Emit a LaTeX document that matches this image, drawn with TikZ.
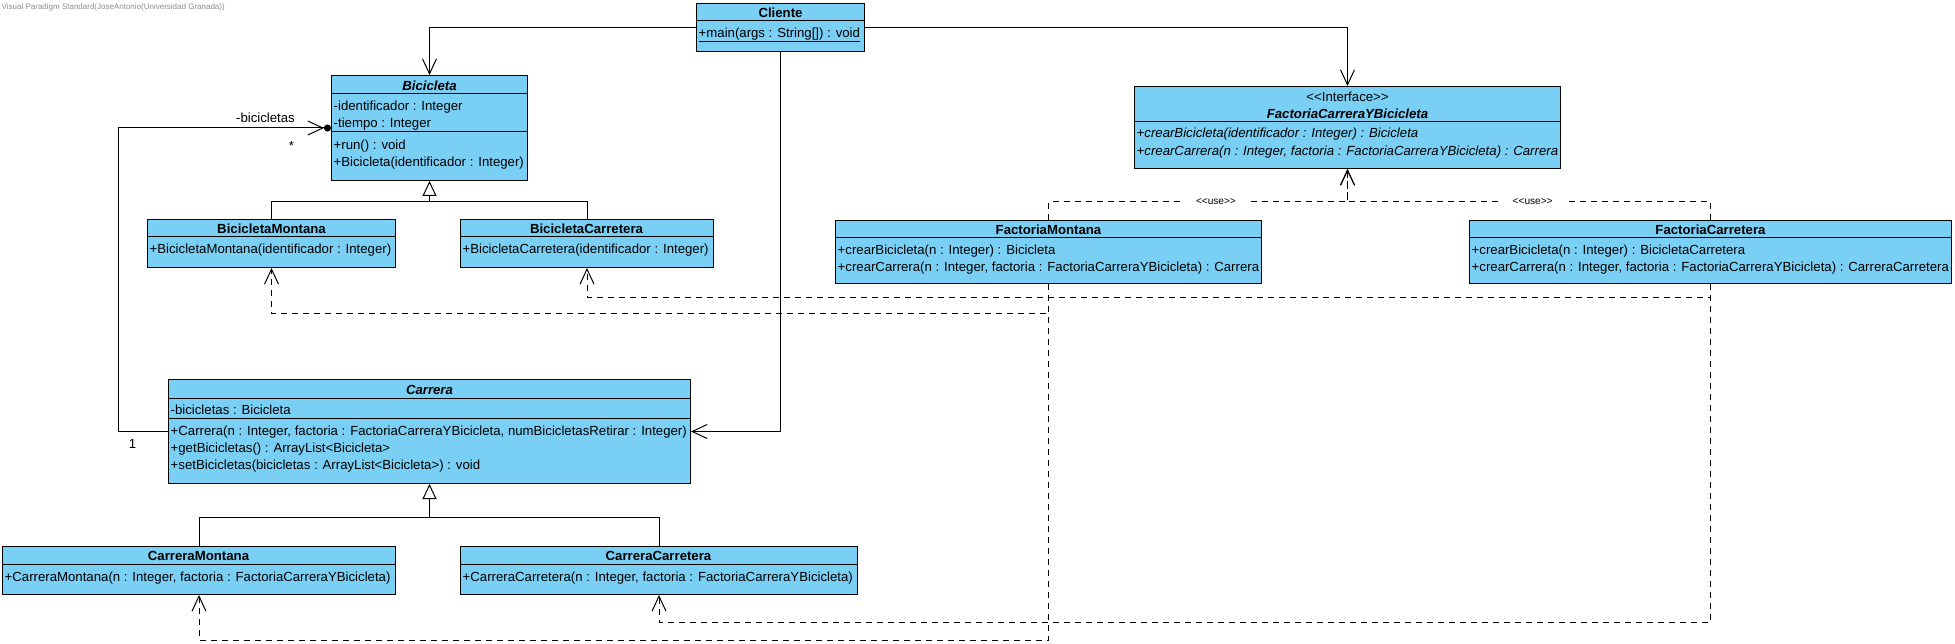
\documentclass[tikz,border=0pt]{standalone}
\usepackage{fontspec}
\setmainfont{Liberation Sans}
\usepackage{tikz}
\usetikzlibrary{arrows.meta,positioning,fit}

\definecolor{classfill}{RGB}{122,207,245}
\definecolor{stampgray}{RGB}{140,140,140}
\newcommand{\umlfont}{\fontsize{13.2}{16}\selectfont}

\tikzset{
  classbox/.style={draw, fill=classfill, line width=1pt, inner sep=0pt},
  classname/.style={font=\umlfont\bfseries, inner sep=0pt, text height=9.5pt, text depth=0pt},
  abstractname/.style={classname, font=\umlfont\bfseries\itshape},
  member/.style={font=\umlfont, anchor=west, inner sep=0pt, text height=9.5pt, text depth=0pt},
  abstractmember/.style={member, font=\umlfont\itshape},
  link/.style={line width=1pt},
  navarrow/.style={link, -{Straight Barb[length=15pt,width=14pt]}},
  genarrow/.style={link, -{Triangle[open,length=15pt,width=14pt]}},
  deparrow/.style={navarrow, dash pattern=on 6pt off 5pt},
  uselabel/.style={font=\fontsize{10.1}{12}\selectfont, fill=white, inner xsep=13pt, inner ysep=1pt},
  lbl/.style={font=\umlfont, inner sep=0pt},
}

\begin{document}
\begin{tikzpicture}[x=1pt,y=-1pt]
\useasboundingbox (-0.5,-0.5) rectangle (1954.5,643.5);
\node[anchor=west, inner sep=0pt, text=stampgray, font=\fontsize{8}{9}\selectfont] (stamp) at (1,7) {Visual Paradigm Standard(JoseAntonio(Universidad Granada))};

% class boxes
\node[classbox, fit={(696,3) (864,51)}] (cliente) {};
\node[classbox, fit={(331,75) (527,180)}] (bicicleta) {};
\node[classbox, fit={(147,219) (395,267)}] (bicmontana) {};
\node[classbox, fit={(460,219) (713,267)}] (biccarretera) {};
\node[classbox, fit={(168,379) (690,483)}] (carrera) {};
\node[classbox, fit={(2,546) (395,594)}] (carmontana) {};
\node[classbox, fit={(460,546) (857,594)}] (carcarretera) {};
\node[classbox, fit={(1134,86) (1560,168)}] (interfaz) {};
\node[classbox, fit={(835,220) (1261,283)}] (facmontana) {};
\node[classbox, fit={(1469,220) (1951,283)}] (faccarretera) {};

% compartments
\foreach \cls/\dy in {cliente/18, bicicleta/19, bicicleta/57, bicmontana/18, biccarretera/18, carrera/19, carrera/39, carmontana/18, carcarretera/18, interfaz/36, facmontana/18, faccarretera/18}
  \draw[link] ([yshift=-\dy]\cls.north west) -- ([yshift=-\dy]\cls.north east);

% Cliente
\node[classname] (clienteT) at (780,12) {Cliente};
\node[member] (clienteO1) at (698,32) {\underline{+main(args : String[]) : void}};

% Bicicleta
\node[abstractname] (bicicletaT) at (429,85) {Bicicleta};
\node[member] (bicicletaA1) at (333,105) {-identificador : Integer};
\node[member] (bicicletaA2) at (333,122) {-tiempo : Integer};
\node[member] (bicicletaO1) at (333,144) {+run() : void};
\node[member] (bicicletaO2) at (333,161) {+Bicicleta(identificador : Integer)};
\node[classname] (bicmontanaT) at (271,228) {BicicletaMontana};
\node[member] (bicmontanaO1) at (149,248) {+BicicletaMontana(identificador : Integer)};
\node[classname] (biccarreteraT) at (586,228) {BicicletaCarretera};
\node[member] (biccarreteraO1) at (462,248) {+BicicletaCarretera(identificador : Integer)};

% Carrera
\node[abstractname] (carreraT) at (429,389) {Carrera};
\node[member] (carreraA1) at (170,409) {-bicicletas : Bicicleta};
\node[member] (carreraO1) at (170,430) {+Carrera(n : Integer, factoria : FactoriaCarreraYBicicleta, numBicicletasRetirar : Integer)};
\node[member] (carreraO2) at (170,447) {+getBicicletas() : ArrayList<Bicicleta>};
\node[member] (carreraO3) at (170,464) {+setBicicletas(bicicletas : ArrayList<Bicicleta>) : void};
\node[classname] (carmontanaT) at (198,555) {CarreraMontana};
\node[member] (carmontanaO1) at (4,576) {+CarreraMontana(n : Integer, factoria : FactoriaCarreraYBicicleta)};
\node[classname] (carcarreteraT) at (658,555) {CarreraCarretera};
\node[member] (carcarreteraO1) at (462,576) {+CarreraCarretera(n : Integer, factoria : FactoriaCarreraYBicicleta)};

% factorias
\node[lbl, text height=9.5pt, text depth=0pt] (interfazS) at (1347,96) {{<}{<}Interface{>}{>}};
\node[abstractname] (interfazT) at (1347,113) {FactoriaCarreraYBicicleta};
\node[abstractmember] (interfazO1) at (1136,132) {+crearBicicleta(identificador : Integer) : Bicicleta};
\node[abstractmember] (interfazO2) at (1136,150) {+crearCarrera(n : Integer, factoria : FactoriaCarreraYBicicleta) : Carrera};
\node[classname] (facmontanaT) at (1048,229) {FactoriaMontana};
\node[member] (facmontanaO1) at (837,249) {+crearBicicleta(n : Integer) : Bicicleta};
\node[member] (facmontanaO2) at (837,266) {+crearCarrera(n : Integer, factoria : FactoriaCarreraYBicicleta) : Carrera};
\node[classname] (faccarreteraT) at (1710,229) {FactoriaCarretera};
\node[member] (faccarreteraO1) at (1471,249) {+crearBicicleta(n : Integer) : BicicletaCarretera};
\node[member] (faccarreteraO2) at (1471,266) {+crearCarrera(n : Integer, factoria : FactoriaCarreraYBicicleta) : CarreraCarretera};

% Cliente links
\draw[navarrow] (cliente.west) -| (bicicleta.north);
\draw[navarrow] (cliente.east) -| (interfaz.north);
\draw[navarrow] (cliente.south) |- (carrera.east);

% association
\draw[link, -{Straight Barb[length=15pt,width=14pt,sep=0pt] Circle[length=7pt,sep=0pt]}] (carrera.west) -- ++(-50,0) |- (bicicleta.west);
\node[lbl, above left=5pt and 36pt of bicicleta.west] (rolename) {-bicicletas};
\node[lbl] (multmany) at (291,145) {*};
\node[lbl] (multone) at (132,443) {1};

% generalization
\coordinate (bicbar) at (429,201);
\draw[genarrow] (bicbar) -- (bicicleta.south);
\draw[link] (bicmontana.north) |- (bicbar) -| (biccarretera.north);
\coordinate (carbar) at (429,517);
\draw[genarrow] (carbar) -- (carrera.south);
\draw[link] (carmontana.north) |- (carbar) -| (carcarretera.north);

% use dependencies
\draw[deparrow] (facmontana.north) -- ++(0,-18) -| node[pos=0.28, uselabel] (useA) {{<}{<}use{>}{>}} (interfaz.south);
\draw[deparrow] (faccarretera.north) -- ++(0,-18) -| node[pos=0.245, uselabel] (useB) {{<}{<}use{>}{>}} (interfaz.south);
\draw[deparrow] (facmontana.south) -- ++(0,30) -| (bicmontana.south);
\draw[deparrow] (faccarretera.south) -- ++(0,14) -| (biccarretera.south);
\draw[deparrow] (facmontana.south) -- ++(0,356) -| (carmontana.south);
\draw[deparrow] (faccarretera.south) -- ++(0,338) -| (carcarretera.south);
\end{tikzpicture}
\end{document}
